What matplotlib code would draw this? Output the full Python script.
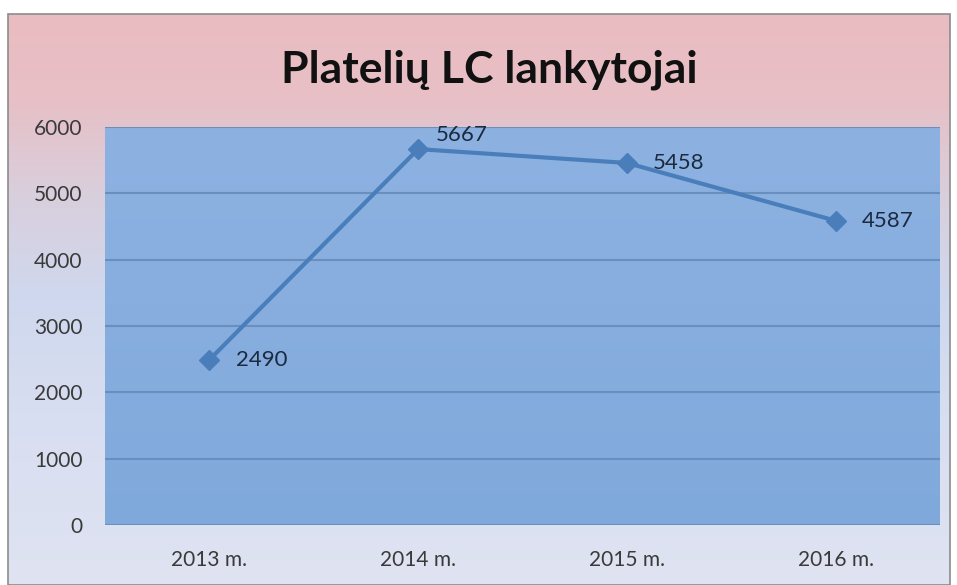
import numpy as np
import matplotlib.pyplot as plt
from matplotlib.colors import LinearSegmentedColormap
from matplotlib.patches import Rectangle

years = ["2013 m.", "2014 m.", "2015 m.", "2016 m."]
visitors = [2490, 5667, 5458, 4587]
yticks = [0, 1000, 2000, 3000, 4000, 5000, 6000]

plt.rcParams['font.family'] = ['Lato', 'DejaVu Sans']

fig = plt.figure(figsize=(9.57, 5.85), dpi=100)
fig.patch.set_facecolor("white")

# chart background: pink top fading to pale blue bottom
bg = fig.add_axes([8 / 957, 0, 942 / 957, 1 - 14 / 585], zorder=0)
bg_cmap = LinearSegmentedColormap.from_list(
    "bg", [(0.0, "#dfe3f2"), (0.3, "#d8def1"), (0.5, "#cfd8ee"),
           (0.68, "#d9cfdd"), (0.85, "#e7c0c6"), (1.0, "#eabcc1")])
bg.imshow(np.linspace(0, 1, 256).reshape(-1, 1), aspect="auto", cmap=bg_cmap,
          origin="lower", extent=[0, 1, 0, 1])
bg.set_axis_off()
bg.add_patch(Rectangle((0, 0), 1, 1, transform=bg.transAxes, fill=False,
                       edgecolor="#8c8c8c", linewidth=1.2, clip_on=False))

ax = fig.add_axes([105 / 957, 1 - 525 / 585, 835 / 957, 398 / 585], zorder=1)
plot_cmap = LinearSegmentedColormap.from_list("pl", ["#80a9db", "#8db2e2"])
ax.imshow(np.linspace(0, 1, 256).reshape(-1, 1), aspect="auto", cmap=plot_cmap,
          origin="lower", extent=[-0.5, 3.5, 0, 6000], zorder=0)

x = np.arange(len(years))
ax.plot(x, visitors, color="#4a7ebb", linewidth=3, marker="D", markersize=10,
        markeredgecolor="#4a7ebb", zorder=3)
offsets = [(19, 0), (13, 3), (19, 0), (19, 0)]
for xi, v, off in zip(x, visitors, offsets):
    ax.annotate(str(v), (xi, v), xytext=off, textcoords="offset points",
                ha="left", va="center" if off[1] == 0 else "bottom",
                fontsize=16, color="#1c2a40", zorder=4, annotation_clip=False)

ax.set_xlim(-0.5, 3.5)
ax.set_ylim(0, 6000)
ax.set_yticks(yticks)
ax.set_xticks(x)
ax.set_xticklabels(years)
ax.yaxis.grid(True, color="#6b8fbd", linewidth=1.5)
ax.set_axisbelow(False)
for s in ax.spines.values():
    s.set_visible(False)
ax.tick_params(length=0, labelsize=15, labelcolor="#3a3a3a")
ax.tick_params(axis="y", pad=16)
ax.tick_params(axis="x", pad=18)

fig.text(489 / 957, 1 - 70 / 585, "Platelių LC lankytojai", ha="center", va="center",
         fontsize=32, fontweight="bold", color="#111111")

fig.savefig("out.png", dpi=100)
